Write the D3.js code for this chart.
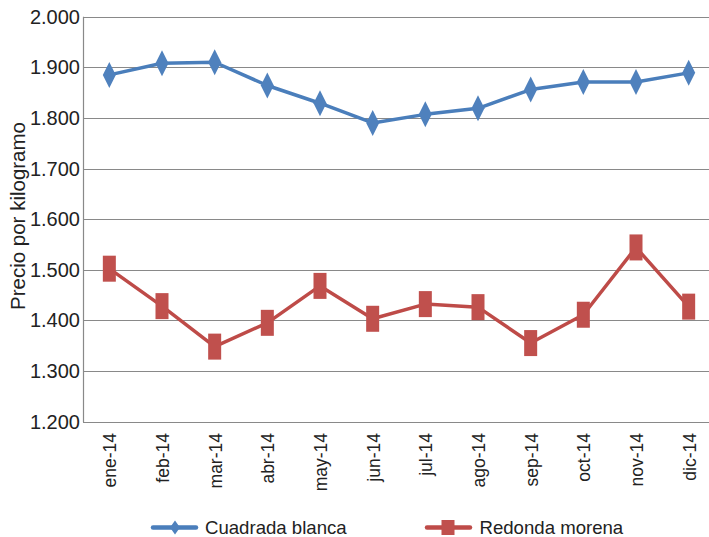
<!DOCTYPE html>
<html>
<head>
<meta charset="utf-8">
<script src="https://cdn.jsdelivr.net/npm/d3@7"></script>
<style>
  html, body { margin: 0; padding: 0; background: #fff; }
  svg { display: block; font-family: "Liberation Sans", Arial, sans-serif; }
</style>
</head>
<body>
<svg id="chart" width="709" height="537"></svg>
<script>
const months = ["ene-14","feb-14","mar-14","abr-14","may-14","jun-14","jul-14","ago-14","sep-14","oct-14","nov-14","dic-14"];
const cuadradaBlanca = [1885, 1908, 1910, 1864, 1829, 1790, 1807, 1819, 1856, 1871, 1871, 1889];
const redondaMorena = [1502, 1428, 1348, 1395, 1468, 1403, 1432, 1426, 1355, 1411, 1544, 1427];
const yTicks = [1200, 1300, 1400, 1500, 1600, 1700, 1800, 1900, 2000];
const seriesNames = ["Cuadrada blanca", "Redonda morena"];
const yTitle = "Precio por kilogramo";

const svg = d3.select("#chart");
const locale = d3.formatLocale({decimal: ",", thousands: ".", grouping: [3], currency: ["$", ""]});
const fmt = locale.format(",.0f");

const x = d3.scalePoint().domain(months).range([83, 715]).padding(0.5);
const y = d3.scaleLinear().domain([1200, 2000]).range([421.5, 16.7]);

const grid = "#898989";

// gridlines
svg.append("g").selectAll("line").data(yTicks).join("line")
  .attr("x1", 83).attr("x2", 715)
  .attr("y1", d => Math.round(y(d)) + 0.5).attr("y2", d => Math.round(y(d)) + 0.5)
  .attr("stroke", grid).attr("stroke-width", 1.2);

// y axis line
svg.append("line").attr("x1", 83.5).attr("x2", 83.5)
  .attr("y1", y(2000)).attr("y2", y(1200) + 0.5)
  .attr("stroke", grid).attr("stroke-width", 1.2);

// y tick labels
svg.append("g").selectAll("text").data(yTicks).join("text")
  .attr("x", 80).attr("y", d => y(d) + 7)
  .attr("text-anchor", "end")
  .attr("font-size", 20).attr("fill", "#222")
  .text(d => fmt(d));

// x labels
svg.append("g").selectAll("text").data(months).join("text")
  .attr("transform", d => `translate(${x(d) + 7},433) rotate(-90)`)
  .attr("text-anchor", "end")
  .attr("font-size", 17.5).attr("fill", "#222")
  .text(d => d);

// y title
svg.append("text")
  .attr("transform", "translate(25,216) rotate(-90)")
  .attr("text-anchor", "middle")
  .attr("font-size", 20.5).attr("fill", "#222")
  .text(yTitle);

const line = d3.line().x((d, i) => x(months[i])).y(d => y(d));

const blue = "#4A7EBB", blueFill = "#4F81BD";
const red = "#BE4B48", redFill = "#C0504D";

svg.append("path").datum(cuadradaBlanca)
  .attr("d", line).attr("fill", "none").attr("stroke", blue)
  .attr("stroke-width", 3.5).attr("stroke-linejoin", "round").attr("stroke-linecap", "round");
svg.append("path").datum(redondaMorena)
  .attr("d", line).attr("fill", "none").attr("stroke", red)
  .attr("stroke-width", 3.5).attr("stroke-linejoin", "round").attr("stroke-linecap", "round");

// diamonds (tall)
const dw = 6.5, dh = 13;
svg.append("g").selectAll("path").data(cuadradaBlanca).join("path")
  .attr("d", (d, i) => {
    const cx = x(months[i]), cy = y(d);
    return `M${cx},${cy - dh}L${cx + dw},${cy}L${cx},${cy + dh}L${cx - dw},${cy}Z`;
  })
  .attr("fill", blueFill);

// rectangles (tall)
svg.append("g").selectAll("rect").data(redondaMorena).join("rect")
  .attr("x", (d, i) => x(months[i]) - 6.5).attr("y", d => y(d) - 13)
  .attr("width", 13).attr("height", 26)
  .attr("fill", redFill);

// legend
const ly = 527.5;
const leg = svg.append("g");
leg.append("line").attr("x1", 153).attr("x2", 196).attr("y1", ly).attr("y2", ly)
  .attr("stroke", blue).attr("stroke-width", 4.5).attr("stroke-linecap", "round");
leg.append("path").attr("d", `M175,${ly - 7}L180,${ly}L175,${ly + 7}L170,${ly}Z`).attr("fill", blueFill);
leg.append("text").attr("x", 205).attr("y", ly + 6.5).attr("font-size", 18.6).attr("fill", "#222").text(seriesNames[0]);

leg.append("line").attr("x1", 427).attr("x2", 470).attr("y1", ly).attr("y2", ly)
  .attr("stroke", red).attr("stroke-width", 4.5).attr("stroke-linecap", "round");
leg.append("rect").attr("x", 441.5).attr("y", ly - 7.5).attr("width", 13).attr("height", 15).attr("fill", redFill);
leg.append("text").attr("x", 479.5).attr("y", ly + 6.5).attr("font-size", 18.6).attr("fill", "#222").text(seriesNames[1]);
</script>
</body>
</html>
